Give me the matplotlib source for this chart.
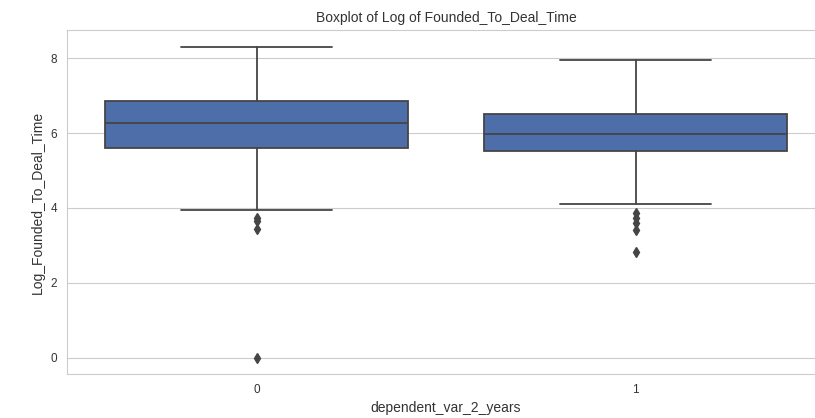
import matplotlib.pyplot as plt
import seaborn as sns

sns.set_style('whitegrid')
plt.rcParams['font.family'] = ['Liberation Sans', 'DejaVu Sans']

groups = ['0', '1']
whisk_low = [3.95, 4.11]
q1 = [5.60, 5.52]
median = [6.27, 5.97]
q3 = [6.85, 6.51]
whisk_high = [8.29, 7.95]
outliers = [[3.73, 3.64, 3.44, 0.0], [3.86, 3.73, 3.60, 3.41, 2.83]]

stats = []
for i in range(len(groups)):
    stats.append({'whislo': whisk_low[i], 'q1': q1[i], 'med': median[i],
                  'q3': q3[i], 'whishi': whisk_high[i], 'fliers': outliers[i]})

box_color = '#4d6ea8'
line_color = '#454545'

fig = plt.figure(figsize=(8.15, 4.18), dpi=100)
ax = fig.add_axes([67 / 815, 44 / 418, 758 / 815, 344 / 418])

ax.bxp(stats, positions=range(len(groups)), widths=0.8, patch_artist=True,
       boxprops=dict(facecolor=box_color, edgecolor=line_color, linewidth=1.3),
       medianprops=dict(color=line_color, linewidth=1.3),
       whiskerprops=dict(color=line_color, linewidth=1.3),
       capprops=dict(color=line_color, linewidth=1.3),
       flierprops=dict(marker='d', markerfacecolor=line_color,
                       markeredgecolor=line_color, markersize=5))

ax.set_xlim(-0.5, 1.5)
ax.set_ylim(-0.43, 8.75)
ax.set_xticks(range(len(groups)))
ax.set_xticklabels(groups)
ax.set_yticks([0, 2, 4, 6, 8])
ax.tick_params(labelsize=8.5, colors='#333333')
ax.xaxis.grid(False)
ax.set_xlabel('dependent_var_2_years', fontsize=10, color='#333333')
ax.set_ylabel('Log_Founded_To_Deal_Time', fontsize=10, color='#333333')
ax.set_title('Boxplot of Log of Founded_To_Deal_Time', fontsize=10, color='#333333')

fig.savefig('out.png', dpi=100)
